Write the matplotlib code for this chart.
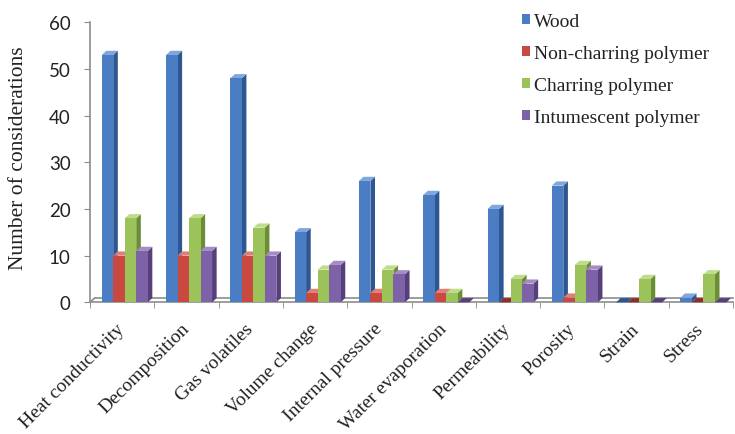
import matplotlib
matplotlib.use("Agg")
import matplotlib.pyplot as plt
from matplotlib.patches import Polygon, Patch
import numpy as np

categories = ["Heat conductivity", "Decomposition", "Gas volatiles", "Volume change",
              "Internal pressure", "Water evaporation", "Permeability", "Porosity",
              "Strain", "Stress"]
wood = [53, 53, 48, 15, 26, 23, 20, 25, 0, 1]
non_charring = [10, 10, 10, 2, 2, 2, 0, 1, 0, 0]
charring = [18, 18, 16, 7, 7, 2, 5, 8, 5, 6]
intumescent = [11, 11, 10, 8, 6, 0, 4, 7, 0, 0]
series_names = ["Wood", "Non-charring polymer", "Charring polymer", "Intumescent polymer"]
y_ticks = [0, 10, 20, 30, 40, 50, 60]

front_c = ["#4A7DC4", "#C9483F", "#9CC25A", "#7E62A8"]
side_c = ["#2E5690", "#8E2E28", "#6C8D37", "#563F7A"]
top_c = ["#7FA6DD", "#E07F77", "#BEDC8A", "#A58CC7"]
axis_gray = "#8C8C8C"

serif = ["Liberation Serif", "DejaVu Serif"]

fig = plt.figure(figsize=(7.35, 4.35), dpi=100)
ax = fig.add_axes([90 / 735, 1 - 303.3 / 435, 643 / 735, 280 / 435])
ax.set_xlim(-0.5, len(categories) - 0.5)
ax.set_ylim(0, 60)

# depth of the pseudo-3D columns, in data units
px_x = 643 / len(categories)
px_y = 280 / 60
dx = 4.6 / px_x
dy = 4.2 / px_y
bar_w = 0.179
offsets = [-0.318 + i * bar_w for i in range(4)]
series = [wood, non_charring, charring, intumescent]
x = np.arange(len(categories))

for s, vals in enumerate(series):
    z = 3 + s
    lefts = x + offsets[s]
    ax.bar(lefts, vals, width=bar_w, align="edge", color=front_c[s],
           zorder=z + 0.02, linewidth=0)
    for x0, v in zip(lefts, vals):
        x1 = x0 + bar_w
        if v > 0:
            ax.add_patch(Polygon([(x1, 0), (x1, v), (x1 + dx, v + dy), (x1 + dx, dy)],
                                 closed=True, fc=side_c[s], ec="none", zorder=z,
                                 clip_on=False))
        ax.add_patch(Polygon([(x0, v), (x1, v), (x1 + dx, v + dy), (x0 + dx, v + dy)],
                             closed=True, fc=top_c[s] if v > 0 else side_c[s],
                             ec="none", zorder=z + 0.01, clip_on=False))

# floor edges
ax.plot([-0.5, -0.5 + dx], [0, dy], color=axis_gray, lw=1.2, zorder=2, clip_on=False)
ax.plot([-0.5 + dx, len(categories) - 0.5], [dy, dy], color=axis_gray, lw=1.2,
        zorder=2, clip_on=False)

for sp in ["top", "right"]:
    ax.spines[sp].set_visible(False)
for sp in ["left", "bottom"]:
    ax.spines[sp].set_color(axis_gray)
    ax.spines[sp].set_linewidth(1.2)

ax.set_yticks(y_ticks)
ax.set_yticklabels([str(t) for t in y_ticks], fontfamily="Lato", fontsize=13.5,
                   color="#222222")
ax.tick_params(axis="y", direction="out", length=4, color=axis_gray, pad=10)

ax.set_xticks(x)
ax.set_xticklabels(categories, rotation=45, ha="right", va="center",
                   rotation_mode="anchor", fontfamily=serif, fontsize=14,
                   color="#222222")
ax.tick_params(axis="x", which="major", length=0, pad=17)
ax.set_xticks(np.arange(-0.5, len(categories), 1), minor=True)
ax.tick_params(axis="x", which="minor", direction="out", length=4, color=axis_gray)

ax.set_ylabel("Number of considerations", fontfamily=serif, fontsize=15.5,
              color="#222222")
ax.yaxis.set_label_coords(-0.097, 0.52)

handles = [Patch(facecolor=c, edgecolor="none") for c in front_c]
leg = fig.legend(handles, series_names, loc="upper left",
                 bbox_to_anchor=(522 / 735, 1 - 14 / 435), frameon=False,
                 prop={"family": serif, "size": 14}, handlelength=0.42,
                 handleheight=0.42, handletextpad=0.2, labelspacing=0.77,
                 borderpad=0, borderaxespad=0)
for t in leg.get_texts():
    t.set_color("#222222")

fig.savefig("out.png", dpi=100)
